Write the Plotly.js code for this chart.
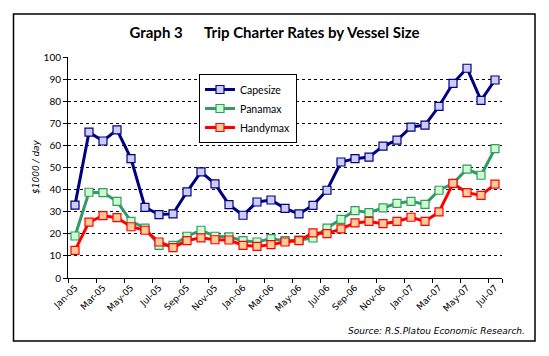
<!DOCTYPE html>
<html>
<head>
<meta charset="utf-8">
<script src="https://cdn.plot.ly/plotly-3.0.1.min.js"></script>
<style>html,body{margin:0;padding:0;background:#fff;}#chart{width:549px;height:356px;}</style>
</head>
<body>
<div id="chart"></div>
<script>
const months = ["Jan-05","Feb-05","Mar-05","Apr-05","May-05","Jun-05","Jul-05","Aug-05","Sep-05","Oct-05","Nov-05","Dec-05",
  "Jan-06","Feb-06","Mar-06","Apr-06","May-06","Jun-06","Jul-06","Aug-06","Sep-06","Oct-06","Nov-06","Dec-06",
  "Jan-07","Feb-07","Mar-07","Apr-07","May-07","Jun-07","Jul-07"];
const capesize = [33,66,62,67,54,32,28.7,29,39,48,42.6,33.2,28.4,34.4,35.3,31.5,29,32.9,39.7,52.5,54,54.7,59.7,62.4,68.3,69.2,77.7,88.1,94.9,80.4,89.6];
const panamax  = [19,38.8,38.6,34.7,25.6,22.6,14.8,14.8,18.9,21.6,18.9,18.6,16.9,16.3,17.8,16.9,17.2,18.1,22.6,26.5,30.5,29.6,31.7,33.8,34.7,33.3,39.7,42.7,49.3,46.5,58.5];
const handymax = [12.5,25.3,28.2,27.3,23.2,21.6,16.3,13.7,16.9,18.2,17.3,17.2,14.8,14.3,15.1,16.3,16.9,20.4,20.1,22.2,24.9,25.6,24.6,25.6,27.5,25.6,29.9,42.8,38.6,37.4,42.5];
const seriesNames = ["Capesize","Panamax","Handymax"];
const labelIdx = months.map((m,i)=>i).filter(i=>i%2===0);
const xs = months.map((m,i)=>i);

function tr(name, y, lc, fc){
  return {x: xs, y: y, name: name, type:'scatter', mode:'lines+markers',
    line:{color:lc, width:3}, marker:{symbol:'square', size:8, color:fc, line:{color:lc, width:1.2}}};
}
const data = [
  tr(seriesNames[0], capesize, '#000080', '#CCCCFF'),
  tr(seriesNames[1], panamax, '#339966', '#CCFFCC'),
  tr(seriesNames[2], handymax, '#FF0000', '#FFCC99'),
  {x:[0], y:[0], xaxis:'x2', yaxis:'y', mode:'markers', marker:{opacity:0}, showlegend:false, hoverinfo:'skip'}
];
const tickFont = {family:'DejaVu Sans', size:9, color:'#000'};
const layout = {
  width:549, height:356,
  margin:{l:68, r:47, t:57, b:78},
  paper_bgcolor:'#fff', plot_bgcolor:'#fff',
  showlegend:true,
  title:{text:'<b>Graph 3      Trip Charter Rates by Vessel Size</b>', x:0.5, xanchor:'center', y:1-33/356, yref:'container', yanchor:'middle',
    font:{family:'Lato', size:15, color:'#000'}},
  xaxis:{range:[-0.5,30.5], tickmode:'array', tickvals:labelIdx, ticktext:labelIdx.map(i=>months[i]),
    tickangle:-45, ticks:'', showgrid:false, zeroline:false, showline:true, linecolor:'#000', linewidth:1,
    tickfont:tickFont, fixedrange:true},
  xaxis2:{overlaying:'x', range:[-0.5,30.5], tickmode:'array', tickvals:labelIdx.map(i=>i-0.5).concat([30.5]),
    showticklabels:false, ticks:'outside', ticklen:4, tickcolor:'#000', showgrid:false, zeroline:false, showline:false, side:'bottom'},
  yaxis:{range:[0,100], dtick:10, tick0:0, ticks:'outside', ticklen:4, tickcolor:'#000', showline:true, linecolor:'#000', linewidth:1,
    showgrid:true, gridcolor:'#000', gridwidth:1, griddash:'dot', zeroline:false,
    tickfont:{family:'Lato', size:10, color:'#000'}},
  legend:{x:(199-68)/434, y:1-(74-57)/221, xanchor:'left', yanchor:'top', bgcolor:'#fff', bordercolor:'#000', borderwidth:1,
    font:{family:'Lato', size:10.5, color:'#000'}, tracegroupgap:0, itemwidth:30},
  annotations:[
    {text:'<i>$1000 / day</i>', xref:'paper', yref:'paper', x:(36-68)/434, y:(278-167)/221, textangle:-90, showarrow:false,
      font:{family:'DejaVu Sans', size:9, color:'#000'}, xanchor:'center', yanchor:'middle'},
    {text:'<i>Source: R.S.Platou Economic Research.</i>', xref:'paper', yref:'paper', x:(527-68)/434, y:(278-331)/221, showarrow:false,
      font:{family:'DejaVu Sans', size:9, color:'#000'}, xanchor:'right', yanchor:'middle'}
  ],
  shapes:[
    {type:'rect', xref:'paper', yref:'paper', x0:(13.5-68)/434, x1:(535-68)/434, y0:(278-341)/221, y1:(278-14)/221,
      line:{color:'#000', width:1.5}, fillcolor:'rgba(0,0,0,0)', layer:'below'}
  ]
};
Plotly.newPlot('chart', data, layout, {staticPlot:true});
</script>
</body>
</html>
